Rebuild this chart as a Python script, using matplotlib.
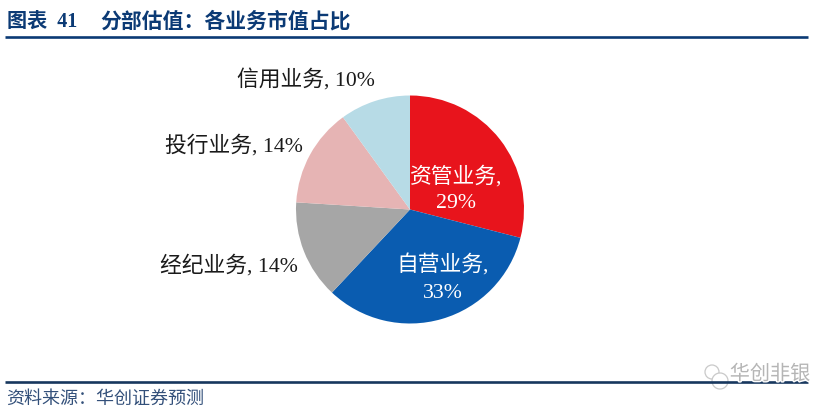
import matplotlib
matplotlib.use('Agg')
import matplotlib.pyplot as plt
from matplotlib.patches import Circle, Wedge
import matplotlib.patheffects as pe

plt.rcParams['font.family'] = ['Liberation Serif', 'Noto Sans CJK SC']

# Data
categories = ['资管业务', '自营业务', '经纪业务', '投行业务', '信用业务']
shares = [29, 33, 14, 14, 10]
colors = ['#e8141c', '#0a5cb0', '#a6a6a6', '#e6b4b4', '#b7dbe6']
title_no = '图表  41'
title = '分部估值\uff1a各业务市值占比'
source = '资料来源\uff1a华创证券预测'
watermark = '华创非银'

W, H = 837, 412
fig = plt.figure(figsize=(W / 100, H / 100), dpi=100)
ax = fig.add_axes([0, 0, 1, 1])

# Axes are in image pixels, y flipped so pie angles stay normal
ax.pie(shares, colors=colors, startangle=90, counterclock=False,
       center=(410, H - 209.5), radius=114, wedgeprops={'linewidth': 0})
ax.set_xlim(0, W)
ax.set_ylim(0, H)
ax.set_aspect('equal')
ax.axis('off')

# Data labels: name, value% (white ones wrap inside the slice)
label_pos = [(456, 189.5), (443, 279), (229, 266), (234, 146), (306, 81)]
for i, (cat, val) in enumerate(zip(categories, shares)):
    x, y = label_pos[i]
    inside = i < 2
    text = f'{cat},\n{val}%' if inside else f'{cat}, {val}%'
    ax.text(x, H - y, text, ha='center', va='center', fontsize=15.7,
            color='white' if inside else '#1a1a1a', linespacing=1.5)

# Header and footer
navy = '#0b3a75'
ax.plot([5, 808], [H - 36.5, H - 36.5], color=navy, lw=1.9, solid_capstyle='butt')
ax.plot([5, 808], [H - 382, H - 382], color='#17375e', lw=1.9, solid_capstyle='butt')
ax.text(7, H - 22, title_no, fontsize=14.5, fontweight='bold', color=navy, ha='left', va='center')
ax.text(100, H - 22, title, fontsize=15, fontweight='bold', color=navy, ha='left', va='center')
ax.text(6, H - 399, source, fontsize=13, style='italic', color='#33507a', ha='left', va='center')

# Watermark in the lower right corner
grey = '#c9c9c9'
ax.add_patch(Circle((712, H - 372), 7, fc='none', ec=grey, lw=0.9))
ax.add_patch(Wedge((720, H - 381), 8, 0, 360, fc='white', ec=grey, lw=0.9))
ax.text(770, H - 375, watermark, fontsize=14.5, color='#b5b5b5', ha='center', va='center',
        path_effects=[pe.withStroke(linewidth=2, foreground='white')])

fig.savefig('out.png', dpi=100)
